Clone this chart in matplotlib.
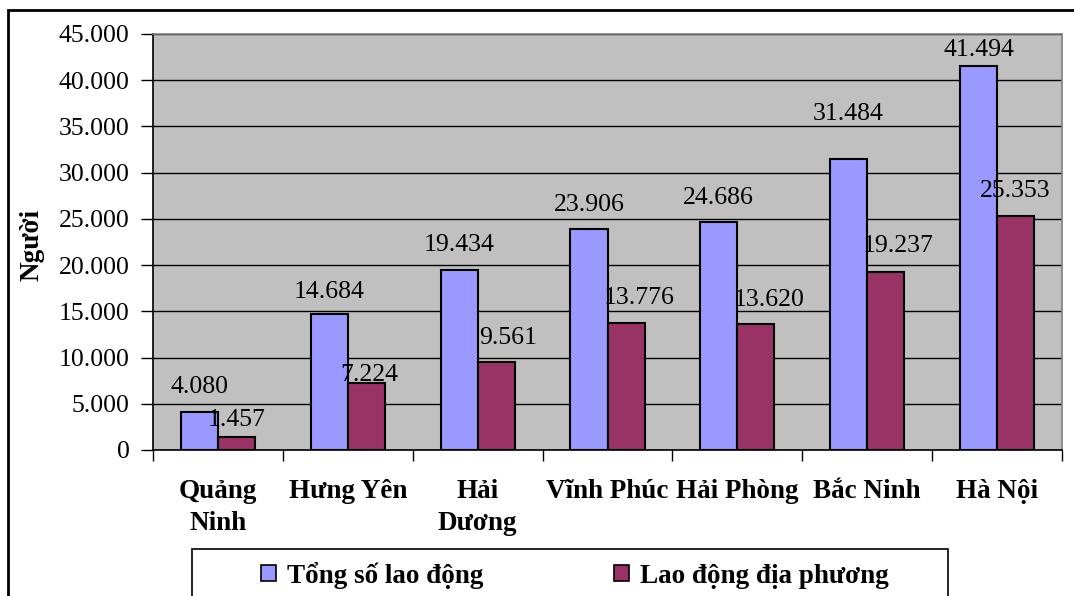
import matplotlib
matplotlib.use("Agg")
import matplotlib.pyplot as plt
import numpy as np
from matplotlib.patches import Rectangle
from matplotlib.ticker import FuncFormatter, MultipleLocator

plt.rcParams['font.family'] = ['Liberation Serif', 'DejaVu Serif']

categories = ["Quảng\nNinh", "Hưng Yên", "Hải\nDương", "Vĩnh Phúc", "Hải Phòng", "Bắc Ninh", "Hà Nội"]
tong_so = [4080, 14684, 19434, 23906, 24686, 31484, 41494]
dia_phuong = [1457, 7224, 9561, 13776, 13620, 19237, 25353]
series_names = ["Tổng số lao động", "Lao động địa phương"]
y_label = "Người"

# label offsets in pixels (dx, dy) – styling only
off_blue = [(0, 25), (0, 22), (0, 25), (0, 24), (0, 24), (0, 45), (0, 16)]
off_red = [(0, 17), (3, 8), (12, 24), (13, 25), (13, 24), (12, 26), (0, 25)]

W, H = 1074, 596
fig = plt.figure(figsize=(W / 100, H / 100), dpi=100)
fig.patch.set_facecolor('white')
ax = fig.add_axes([153 / W, 1 - 450 / H, (1062 - 153) / W, (450 - 34) / H])
ax.set_facecolor('#C0C0C0')

x = np.arange(len(categories))
w = 1 / 3.5
blue = '#9999FF'
red = '#993366'
ax.bar(x - w / 2, tong_so, w, color=blue, edgecolor='black', linewidth=1.5, zorder=3)
ax.bar(x + w / 2, dia_phuong, w, color=red, edgecolor='black', linewidth=1.5, zorder=3)

def fmt(v):
    return f"{v:,}".replace(",", ".")

LBL = 18.5
for xi, v, (dx, dy) in zip(x - w / 2, tong_so, off_blue):
    ax.annotate(fmt(v), (xi, v), xytext=(dx, dy), textcoords='offset pixels',
                ha='center', va='center', fontsize=LBL, zorder=5)
for xi, v, (dx, dy) in zip(x + w / 2, dia_phuong, off_red):
    ax.annotate(fmt(v), (xi, v), xytext=(dx, dy), textcoords='offset pixels',
                ha='center', va='center', fontsize=LBL, zorder=5)

ax.set_xlim(-0.5, len(categories) - 0.5)
ax.set_ylim(0, 45000)
ax.yaxis.set_major_locator(MultipleLocator(5000))
ax.yaxis.set_major_formatter(FuncFormatter(lambda v, p: fmt(int(v))))
ax.grid(axis='y', color='black', linewidth=1.0, zorder=1)
ax.set_axisbelow(True)

# x ticks at boundaries, labels at centers
ax.set_xticks(np.arange(-0.5, len(categories), 1.0))
ax.set_xticklabels([])
ax.set_xticks(x, minor=True)
ax.set_xticklabels(categories, minor=True, fontsize=19.5, fontweight='bold',
                   linespacing=1.35)
ax.tick_params(axis='x', which='major', length=8, width=1, direction='out', color='black')
ax.tick_params(axis='x', which='minor', length=0, pad=21)
ax.tick_params(axis='y', length=9, width=1, direction='out', pad=8, labelsize=LBL)

for s in ['top', 'right']:
    ax.spines[s].set_color('#808080')
    ax.spines[s].set_linewidth(1.2)
for s in ['left', 'bottom']:
    ax.spines[s].set_color('black')
    ax.spines[s].set_linewidth(1.2)

fig.text(32 / W, 1 - 245 / H, y_label, rotation=90, ha='center', va='center',
         fontsize=19.5, fontweight='bold')

# outer chart border
fig.patches.append(Rectangle((8 / W, -0.1), 1.2, 1 - 10 / H + 0.1, transform=fig.transFigure,
                             fill=False, edgecolor='black', linewidth=2, zorder=0))

# legend frame
fig.patches.append(Rectangle((192 / W, -0.1), (948 - 192) / W, 1 - 549 / H + 0.1,
                             transform=fig.transFigure, fill=False, edgecolor='black',
                             linewidth=1.2, zorder=1))
handles = [Rectangle((0, 0), 1, 1, facecolor=blue, edgecolor='black', linewidth=1.2),
           Rectangle((0, 0), 1, 1, facecolor=red, edgecolor='black', linewidth=1.2)]
fig.legend(handles, series_names, ncol=2, loc='center left',
           bbox_to_anchor=(261 / W, 1 - 575 / H), frameon=False,
           prop={'size': 19.5, 'weight': 'bold'},
           handlelength=0.55, handleheight=0.55, handletextpad=0.4,
           columnspacing=4.85, borderpad=0, borderaxespad=0)

fig.savefig('out.png', dpi=100)
